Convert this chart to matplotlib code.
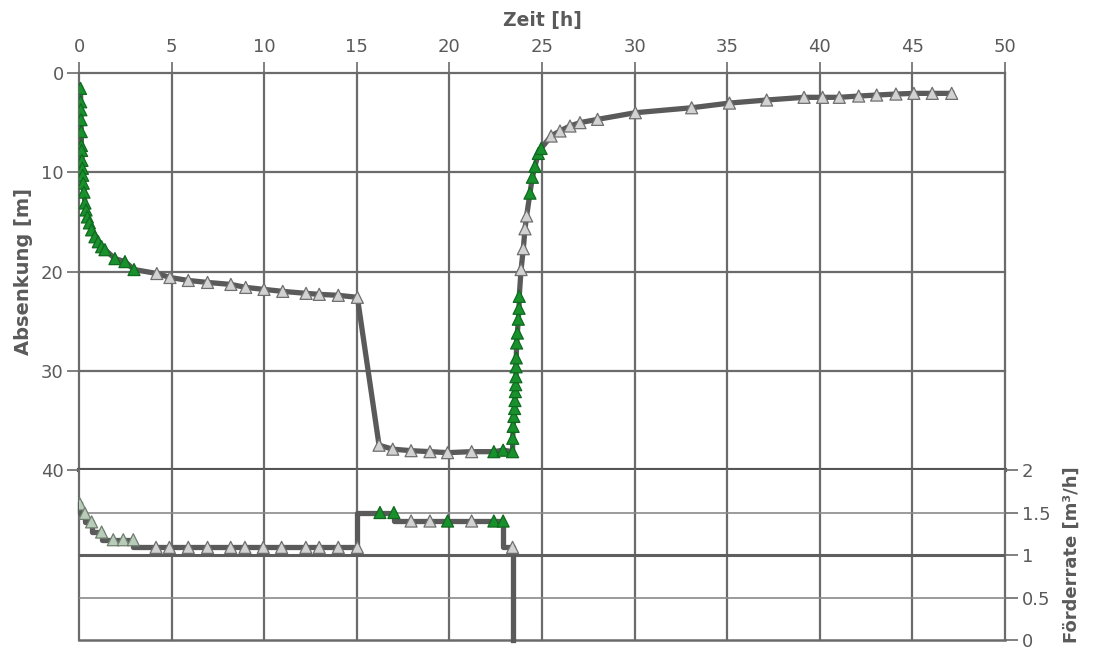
import matplotlib
matplotlib.use("Agg")
import matplotlib.pyplot as plt
import numpy as np

# ---------------- data ----------------
# Drawdown (Absenkung) over time
draw_t = [0.08, 0.09, 0.10, 0.11, 0.12, 0.13, 0.14, 0.16, 0.18, 0.20, 0.23, 0.27,
          0.32, 0.38, 0.45, 0.56, 0.68, 0.86, 1.04, 1.22, 1.40, 1.94, 2.48, 2.97,
          4.20, 4.91, 5.90, 6.94, 8.20, 9.00, 9.99, 11.00, 12.26, 12.97, 14.00, 15.03,
          16.20, 16.94, 17.93, 18.95, 19.90, 21.20, 22.40, 22.90, 23.41,
          23.42, 23.44, 23.48, 23.52, 23.54, 23.56, 23.58, 23.59, 23.60, 23.61,
          23.63, 23.67, 23.72, 23.76, 23.77,
          23.87, 23.99, 24.08, 24.17,
          24.35, 24.48, 24.62, 24.80, 24.95,
          25.49, 25.97, 26.51, 27.05, 28.00, 30.04, 33.08, 35.12, 37.13, 39.15,
          40.15, 41.05, 42.10, 43.07, 44.11, 45.08, 46.07, 47.12]
draw_s = [1.55, 2.9, 3.7, 4.7, 5.9, 7.3, 7.8, 8.8, 9.6, 10.3, 11.1, 12.0,
          13.1, 13.8, 14.5, 15.1, 15.8, 16.5, 17.0, 17.5, 17.8, 18.7, 19.0, 19.8,
          20.2, 20.6, 20.9, 21.1, 21.3, 21.6, 21.8, 22.0, 22.2, 22.3, 22.4, 22.6,
          37.5, 37.9, 38.05, 38.15, 38.25, 38.15, 38.15, 38.0, 38.15,
          36.8, 35.6, 34.6, 33.8, 33.0, 32.1, 31.4, 30.6, 29.6, 28.7,
          27.2, 26.2, 24.8, 23.7, 22.5,
          19.8, 17.7, 15.7, 14.4,
          12.1, 10.5, 9.4, 8.1, 7.6,
          6.35, 5.84, 5.34, 5.0, 4.67, 4.0, 3.5, 3.03, 2.72, 2.45,
          2.45, 2.45, 2.32, 2.22, 2.12, 2.05, 2.05, 2.05]
# marker class: 'g' = green, 'k' = grey
draw_cls = (['g'] * 24 + ['k'] * 12 + ['k'] * 6 + ['g'] * 3 + ['g'] * 15
            + ['k'] * 4 + ['g'] * 5 + ['k'] * 18)

# Pumping rate (Förderrate)
rate_t = [0.05, 0.32, 0.68, 1.22, 1.85, 2.39, 2.93,
          4.16, 4.88, 5.90, 6.94, 8.19, 8.96, 9.95, 10.94, 12.25, 12.97, 14.00, 15.03,
          16.25, 17.00, 17.93, 18.95, 19.90, 21.20, 22.40, 22.90, 23.41]
rate_q = [1.60, 1.49, 1.39, 1.27, 1.18, 1.18, 1.18,
          1.09, 1.09, 1.09, 1.09, 1.09, 1.09, 1.09, 1.09, 1.09, 1.09, 1.09, 1.09,
          1.50, 1.50, 1.40, 1.40, 1.40, 1.40, 1.40, 1.40, 1.09]
rate_cls = (['m'] * 7 + ['k'] * 12 + ['g', 'g', 'k', 'k', 'g', 'k', 'g', 'g', 'k'])
pump_off_t = 23.41

x_ticks = [0, 5, 10, 15, 20, 25, 30, 35, 40, 45, 50]
s_ticks = [0, 10, 20, 30, 40]
q_ticks = [0, 0.5, 1, 1.5, 2]
q_labels = ["0", "0.5", "1", "1.5", "2"]

# ---------------- style ----------------
LINE = "#5a5a5a"
GRID = "#6b6b6b"
TXT = "#5a5a5a"
FACE = {"g": "#18902c", "k": "#d2d2d2", "m": "#b9ccb9"}
EDGE = {"g": "#0f6a1f", "k": "#6f6f6f", "m": "#6f7f6f"}

plt.rcParams["font.family"] = ["DejaVu Sans"]

fig = plt.figure(figsize=(10.93, 6.56), dpi=100)
ax = fig.add_axes([0.0723, 0.2835, 0.8472, 0.6052])
ax2 = fig.add_axes([0.0723, 0.0244, 0.8472, 0.2591])

for a in (ax, ax2):
    a.set_xlim(0, 50)
    for sp in a.spines.values():
        sp.set_visible(False)
    a.set_xticks(x_ticks)
    for xv in x_ticks:
        a.axvline(xv, color=GRID, lw=1.6, zorder=1, clip_on=False)

# ---- top panel: drawdown ----
ax.set_ylim(40, 0)
ax.set_yticks(s_ticks)
for yv in s_ticks[:-1]:
    ax.axhline(yv, color=GRID, lw=1.6, zorder=1, clip_on=False)
ax.axhline(40, color="#555555", lw=3.0, zorder=1, clip_on=False)

ax.xaxis.tick_top()
ax.xaxis.set_label_position("top")
ax.tick_params(axis="x", direction="out", length=8, width=1.2, color=GRID,
               labelcolor=TXT, labelsize=13, pad=4)
ax.tick_params(axis="y", direction="out", length=9, width=1.2, color=GRID,
               labelcolor=TXT, labelsize=13, pad=2)
ax.set_xlabel("Zeit [h]", fontsize=13.5, fontweight="bold", color=TXT, labelpad=9)
ax.set_ylabel("Absenkung [m]", fontsize=14, fontweight="bold", color=TXT, labelpad=6)

ax.plot(draw_t, draw_s, color=LINE, lw=3.8, zorder=3, solid_joinstyle="round")
ax.scatter(draw_t, draw_s, marker="^", s=75,
           c=[FACE[c] for c in draw_cls], edgecolors=[EDGE[c] for c in draw_cls],
           linewidths=0.9, zorder=4)

# ---- bottom panel: pumping rate ----
ax2.set_ylim(0, 2)
ax2.set_yticks(q_ticks)
ax2.set_yticklabels(q_labels)
ax2.axhline(0.5, color="#8a8a8a", lw=1.2, zorder=1)
ax2.axhline(1.5, color="#8a8a8a", lw=1.2, zorder=1)
ax2.axhline(1.0, color="#5e5e5e", lw=2.2, zorder=1)
ax2.axhline(0.0, color=GRID, lw=1.8, zorder=1, clip_on=False)
ax2.yaxis.tick_right()
ax2.yaxis.set_label_position("right")
ax2.tick_params(axis="x", bottom=False, labelbottom=False)
ax2.tick_params(axis="y", direction="out", length=9, width=1.2, color=GRID,
                labelcolor=TXT, labelsize=13, pad=3)
ax2.set_ylabel("Förderrate [m³/h]", fontsize=13, fontweight="bold", color=TXT,
               labelpad=9)

line_t = rate_t + [pump_off_t]
line_q = rate_q + [0.0]
ax2.plot(line_t, line_q, drawstyle="steps-pre", color=LINE, lw=3.8, zorder=3,
         clip_on=False)
ax2.scatter(rate_t, rate_q, marker="^", s=75,
            c=[FACE[c] for c in rate_cls], edgecolors=[EDGE[c] for c in rate_cls],
            linewidths=0.9, zorder=4)

fig.savefig("out.png", dpi=100, facecolor="white")
